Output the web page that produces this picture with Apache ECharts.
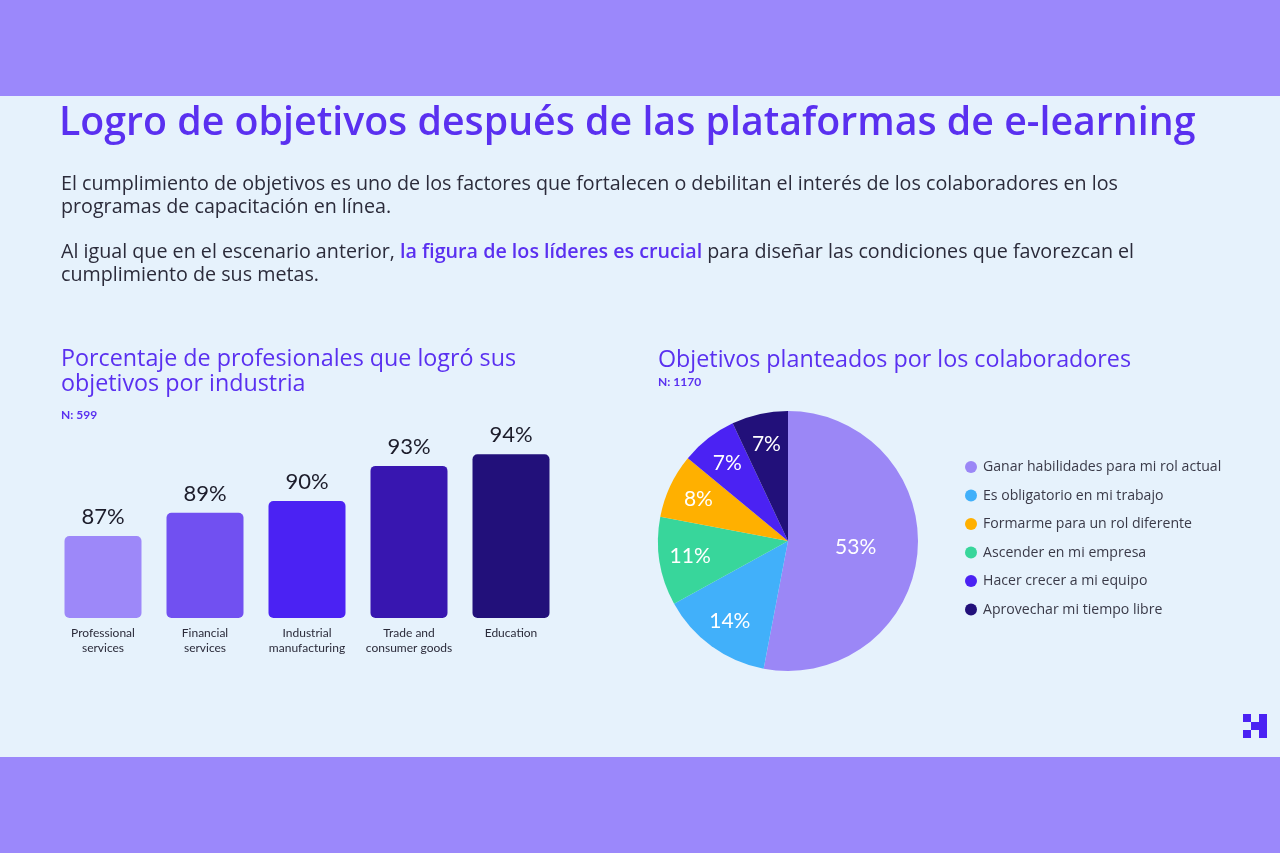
<!DOCTYPE html>
<html>
<head>
<meta charset="utf-8">
<script src="https://cdn.jsdelivr.net/npm/echarts@6/dist/echarts.min.js"></script>
<style>
html,body{margin:0;padding:0;background:#e6f2fc;}
#c{width:1280px;height:853px;}
</style>
</head>
<body>
<div id="c"></div>
<script>
// Bar chart data
const industries = ['Professional\nservices', 'Financial\nservices', 'Industrial\nmanufacturing', 'Trade and\nconsumer goods', 'Education'];
const achievedPct = [87, 89, 90, 93, 94];
const barColors = ['#9d88f9', '#7150f1', '#4b22f3', '#3816b0', '#22107a'];

// Pie chart data (slice order, clockwise from 12 o'clock)
const pieNames = ['Ganar habilidades para mi rol actual', 'Es obligatorio en mi trabajo', 'Ascender en mi empresa', 'Formarme para un rol diferente', 'Hacer crecer a mi equipo', 'Aprovechar mi tiempo libre'];
const piePct = [53, 14, 11, 8, 7, 7];
const pieColors = ['#9b87f6', '#41b0fa', '#38d69b', '#ffb000', '#4b22f3', '#22107a'];
// Legend order as shown
const legendOrder = ['Ganar habilidades para mi rol actual', 'Es obligatorio en mi trabajo', 'Formarme para un rol diferente', 'Ascender en mi empresa', 'Hacer crecer a mi equipo', 'Aprovechar mi tiempo libre'];

const FONT = '"Open Sans", Lato, sans-serif';
const SMALL = 'Lato, "Open Sans", sans-serif';
const PURPLE = '#5a30f0';
const TEXT = '#2b2b3a';

// font size fitting to reference text widths
const mctx = document.createElement('canvas').getContext('2d');
function fit(text, weight, family, target) {
  mctx.font = weight + ' 100px ' + family;
  return Math.round(1000 * target / mctx.measureText(text).width) / 10;
}
const titleText = 'Logro de objetivos después de las plataformas de e-learning';
const p1 = 'El cumplimiento de objetivos es uno de los factores que fortalecen o debilitan el interés de los colaboradores en los';
const titleSize = fit(titleText, '600', FONT, 1137);
const paraSize = fit(p1, 'normal', FONT, 1059);
const subSize = fit('Objetivos planteados por los colaboradores', 'normal', FONT, 473);
const legSize = fit('Ganar habilidades para mi rol actual', 'normal', FONT, 239);

const chart = echarts.init(document.getElementById('c'), null, {renderer: 'canvas'});

const labelRadius = 192;
const option = {
  backgroundColor: '#e6f2fc',
  textStyle: {fontFamily: FONT},
  graphic: [
    {type: 'rect', shape: {x: 0, y: 0, width: 1280, height: 96}, style: {fill: '#9b88fb'}, silent: true},
    {type: 'rect', shape: {x: 0, y: 757, width: 1280, height: 96}, style: {fill: '#9b88fb'}, silent: true},
    {type: 'text', left: 59, top: 104, style: {text: titleText, fill: PURPLE, font: '600 ' + titleSize + 'px ' + FONT}},
    {type: 'text', left: 61, top: 173, style: {text: p1 + '\nprogramas de capacitación en línea.', fill: TEXT, font: paraSize + 'px ' + FONT, lineHeight: 23}},
    {type: 'text', left: 61, top: 242, style: {
      text: '{a|Al igual que en el escenario anterior, }{b|la figura de los líderes es crucial}{a| para diseñar las condiciones que favorezcan el}\n{a|cumplimiento de sus metas.}',
      rich: {
        a: {fill: TEXT, font: paraSize + 'px ' + FONT, lineHeight: 23},
        b: {fill: PURPLE, font: '600 ' + paraSize + 'px ' + FONT, lineHeight: 23}
      }
    }},
    {type: 'text', left: 61, top: 347, style: {text: 'Porcentaje de profesionales que logró sus\nobjetivos por industria', fill: PURPLE, font: subSize + 'px ' + FONT, lineHeight: 25}},
    {type: 'text', left: 61, top: 409, style: {text: 'N: 599', fill: PURPLE, font: 'bold 12px ' + SMALL}},
    {type: 'text', left: 658, top: 349, style: {text: 'Objetivos planteados por los colaboradores', fill: PURPLE, font: subSize + 'px ' + FONT}},
    {type: 'text', left: 658, top: 376, style: {text: 'N: 1170', fill: PURPLE, font: 'bold 12px ' + SMALL}},
    // logo
    {type: 'rect', shape: {x: 1243, y: 714, width: 8, height: 8}, style: {fill: '#4b22f3'}, silent: true},
    {type: 'rect', shape: {x: 1251, y: 722, width: 8, height: 8}, style: {fill: '#4b22f3'}, silent: true},
    {type: 'rect', shape: {x: 1243, y: 730, width: 8, height: 8}, style: {fill: '#4b22f3'}, silent: true},
    {type: 'rect', shape: {x: 1259, y: 714, width: 8, height: 24}, style: {fill: '#4b22f3'}, silent: true}
  ],
  grid: {left: 52, width: 510, top: 384, bottom: 235},
  xAxis: {
    type: 'category',
    data: industries,
    axisLine: {show: false},
    axisTick: {show: false},
    axisLabel: {color: TEXT, fontSize: 12, lineHeight: 15, margin: 8, fontFamily: SMALL, interval: 0}
  },
  yAxis: {type: 'value', min: 80, max: 100, show: false, splitLine: {show: false}},
  legend: {
    orient: 'vertical',
    left: 960,
    top: 455,
    itemGap: 14.5,
    icon: 'circle',
    itemWidth: 12,
    itemHeight: 12,
    data: legendOrder,
    textStyle: {color: '#3a3a48', fontSize: legSize, fontFamily: FONT, padding: [0, 0, 0, 1]},
    selectedMode: false
  },
  series: [
    {
      type: 'bar',
      barWidth: 77,
      data: achievedPct.map((v, i) => ({value: v, itemStyle: {color: barColors[i], borderRadius: 5}})),
      label: {show: true, position: 'top', distance: 8, formatter: '{c}%', color: '#1c1c2a', fontSize: 22, fontFamily: SMALL},
      silent: true
    },
    {
      type: 'pie',
      name: 'main',
      center: [788, 541],
      radius: [0, 130],
      startAngle: 90,
      clockwise: true,
      data: pieNames.map((n, i) => ({name: n, value: piePct[i], itemStyle: {color: pieColors[i]},
        label: {show: i === 0}})),
      label: {position: 'inside', formatter: '{c}%', color: '#ffffff', fontSize: 21, fontFamily: SMALL},
      labelLine: {show: false},
      emphasis: {disabled: true},
      silent: true
    },
    {
      // label-only ring for the small slices (placed closer to the rim)
      type: 'pie',
      name: 'labels',
      center: [788, 541],
      radius: [0, labelRadius],
      startAngle: 90,
      clockwise: true,
      legendHoverLink: false,
      data: pieNames.map((n, i) => ({name: n + ' ', value: piePct[i], itemStyle: {color: 'rgba(0,0,0,0)'},
        label: {show: i !== 0}})),
      label: {position: 'inside', formatter: '{c}%', color: '#ffffff', fontSize: 21, fontFamily: SMALL},
      labelLine: {show: false},
      emphasis: {disabled: true},
      silent: true,
      z: 3
    }
  ],
  animation: false
};
chart.setOption(option);
</script>
</body>
</html>
